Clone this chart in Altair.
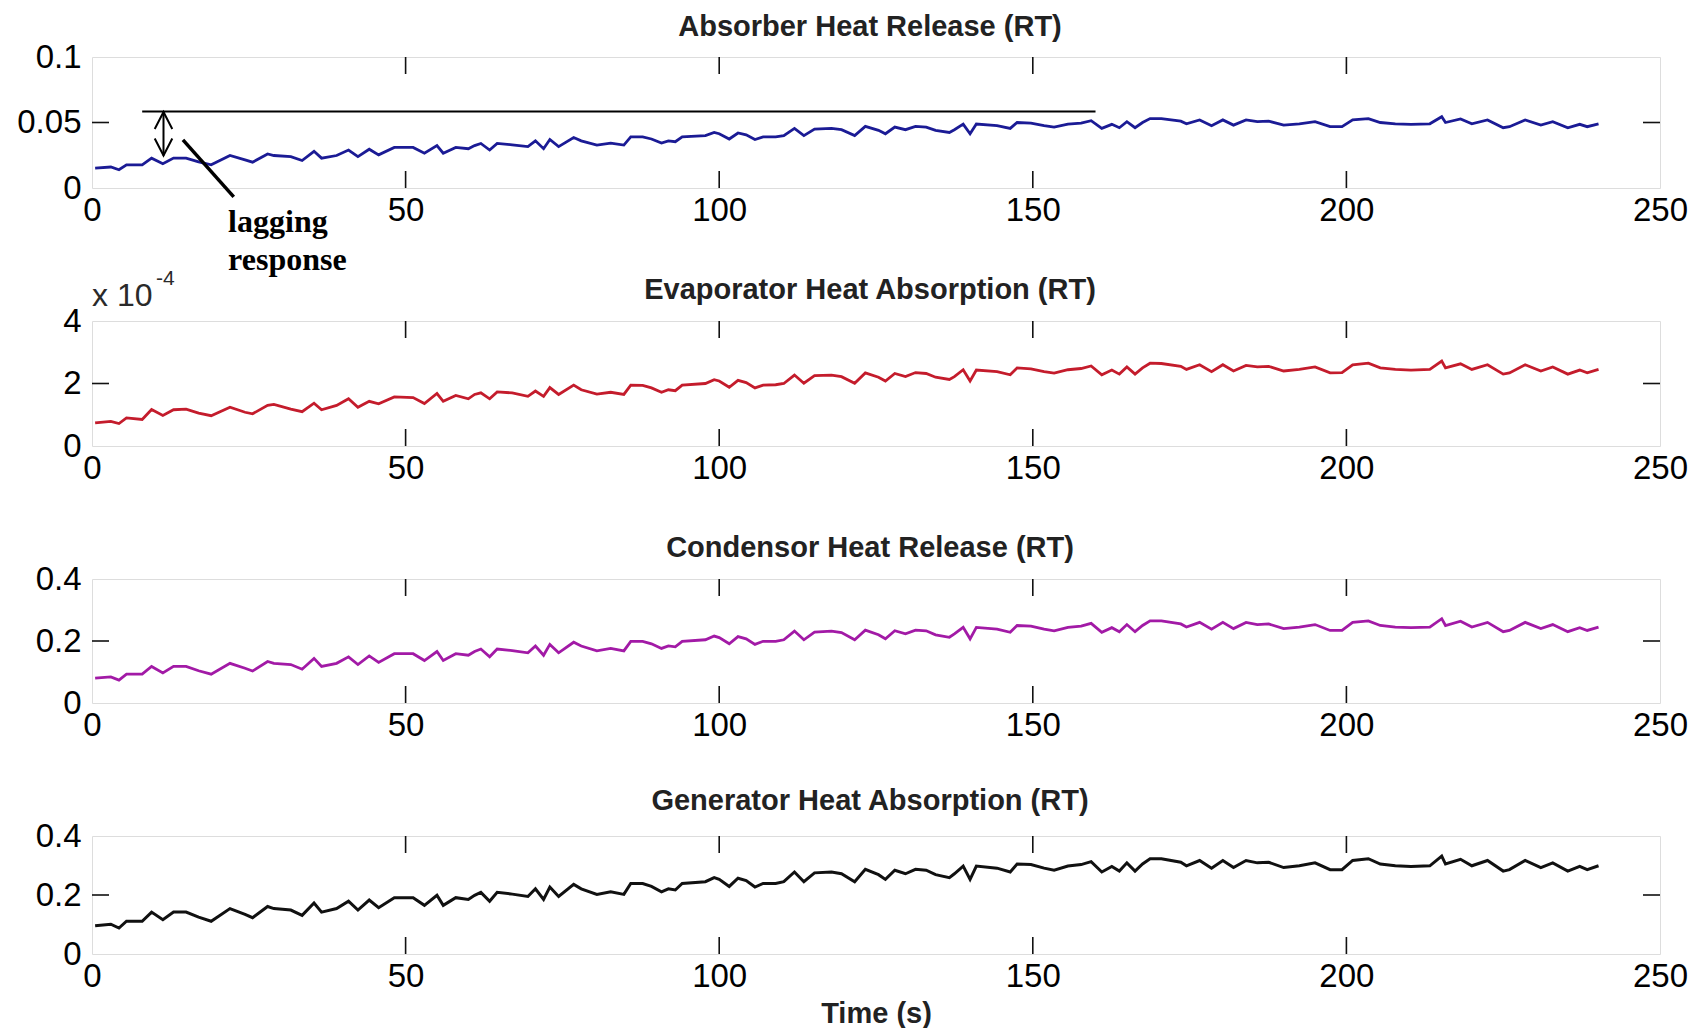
import altair as alt
import pandas as pd

# ---------------- data ----------------
time_s = [0.5, 3, 4.3, 5.5, 8, 9.5, 11.3, 13, 15, 17,
          19, 22, 24.4, 25.6, 28, 29, 31.7, 33.5, 35.4, 36.6,
          39, 40.9, 42.4, 44.2, 45.7, 48.2, 51.2, 53, 55, 56,
          58, 60, 61, 62, 63.4, 64.6, 67, 69.5, 70.7, 72,
          73, 74.4, 76.8, 78, 80.5, 82.7, 84.8, 85.9, 87.8, 89.2,
          90.8, 91.9, 93, 94.1, 97.8, 99.2, 100, 101.6, 103, 104.3,
          105.7, 107, 109, 110.3, 112, 113.5, 115.2, 117.9, 119.5, 121.6,
          123.3, 125.4, 126.5, 128, 129.7, 131.3, 133, 134.5, 136.7, 137.5,
          138.9, 140, 141, 144.3, 146.4, 147.5, 149.7, 151.8, 153.4, 155.6,
          157.7, 159.3, 161, 162.6, 163.8, 165, 166.3, 167.5, 168.7, 170.5,
          173.6, 174.5, 176.6, 178.5, 180.3, 182, 184, 185.8, 187.6, 190,
          192.5, 195, 197.4, 199.3, 201, 203.5, 205.4, 207.8, 210.3, 213.3,
          215.2, 215.8, 218.2, 220, 222.5, 225, 226, 228.5, 231, 232.9,
          235.3, 237.2, 238.4, 240.2]

absorber = [0.0152, 0.0160, 0.0139, 0.0177, 0.0177, 0.0228, 0.0185, 0.0228, 0.0228, 0.0200,
            0.0177, 0.0248, 0.0215, 0.0197, 0.0260, 0.0248, 0.0240, 0.0210, 0.0280, 0.0228,
            0.0248, 0.0290, 0.0240, 0.0296, 0.0253, 0.0310, 0.0310, 0.0266, 0.0324, 0.0266,
            0.0310, 0.0300, 0.0324, 0.0340, 0.0290, 0.0340, 0.0330, 0.0316, 0.0360, 0.0300,
            0.0370, 0.0316, 0.0385, 0.0360, 0.0328, 0.0343, 0.0328, 0.0390, 0.0390, 0.0374,
            0.0343, 0.0360, 0.0353, 0.0390, 0.0400, 0.0424, 0.0414, 0.0374, 0.0420, 0.0406,
            0.0370, 0.0390, 0.0390, 0.0400, 0.0455, 0.0400, 0.0450, 0.0455, 0.0445, 0.0400,
            0.0470, 0.0440, 0.0414, 0.0465, 0.0445, 0.0470, 0.0465, 0.0440, 0.0424, 0.0445,
            0.0488, 0.0414, 0.0488, 0.0476, 0.0455, 0.0500, 0.0496, 0.0476, 0.0465, 0.0488,
            0.0496, 0.0514, 0.0455, 0.0486, 0.0460, 0.0506, 0.0460, 0.0500, 0.0530, 0.0530,
            0.0510, 0.0490, 0.0520, 0.0476, 0.0520, 0.0480, 0.0520, 0.0506, 0.0510, 0.0480,
            0.0490, 0.0506, 0.0468, 0.0468, 0.0520, 0.0530, 0.0500, 0.0490, 0.0486, 0.0490,
            0.0544, 0.0500, 0.0527, 0.0490, 0.0520, 0.0460, 0.0468, 0.0520, 0.0480, 0.0506,
            0.0460, 0.0486, 0.0468, 0.0490]

# evaporator values in units of 1e-4 RT (axis carries the "x 10^-4" multiplier)
evaporator_e4 = [0.74, 0.79, 0.72, 0.90, 0.85, 1.17, 0.98, 1.16, 1.18, 1.05,
                 0.97, 1.24, 1.08, 1.03, 1.30, 1.33, 1.18, 1.10, 1.37, 1.16,
                 1.30, 1.51, 1.24, 1.43, 1.35, 1.57, 1.55, 1.36, 1.68, 1.43,
                 1.62, 1.51, 1.65, 1.70, 1.51, 1.73, 1.70, 1.59, 1.76, 1.59,
                 1.87, 1.65, 1.95, 1.80, 1.66, 1.72, 1.65, 1.95, 1.94, 1.86,
                 1.72, 1.80, 1.77, 1.95, 2.00, 2.12, 2.08, 1.88, 2.10, 2.03,
                 1.86, 1.95, 1.96, 2.00, 2.27, 2.01, 2.25, 2.27, 2.22, 2.01,
                 2.34, 2.20, 2.08, 2.32, 2.22, 2.35, 2.32, 2.20, 2.13, 2.22,
                 2.44, 2.08, 2.43, 2.38, 2.28, 2.50, 2.47, 2.38, 2.33, 2.44,
                 2.48, 2.56, 2.28, 2.43, 2.30, 2.53, 2.30, 2.50, 2.65, 2.64,
                 2.55, 2.45, 2.60, 2.38, 2.60, 2.40, 2.58, 2.53, 2.55, 2.40,
                 2.45, 2.53, 2.34, 2.35, 2.60, 2.65, 2.50, 2.45, 2.43, 2.45,
                 2.72, 2.50, 2.63, 2.45, 2.60, 2.30, 2.34, 2.60, 2.40, 2.53,
                 2.30, 2.43, 2.34, 2.45]

condensor = [0.080, 0.084, 0.074, 0.093, 0.093, 0.118, 0.097, 0.118, 0.118, 0.104,
             0.093, 0.128, 0.112, 0.103, 0.134, 0.128, 0.124, 0.109, 0.144, 0.118,
             0.128, 0.149, 0.124, 0.152, 0.131, 0.159, 0.159, 0.137, 0.166, 0.137,
             0.159, 0.154, 0.166, 0.174, 0.149, 0.174, 0.169, 0.162, 0.184, 0.154,
             0.189, 0.162, 0.196, 0.184, 0.168, 0.176, 0.168, 0.199, 0.199, 0.191,
             0.176, 0.184, 0.181, 0.199, 0.204, 0.216, 0.211, 0.191, 0.214, 0.207,
             0.189, 0.199, 0.199, 0.204, 0.232, 0.204, 0.229, 0.232, 0.227, 0.204,
             0.235, 0.220, 0.207, 0.233, 0.223, 0.235, 0.233, 0.220, 0.212, 0.223,
             0.244, 0.207, 0.244, 0.238, 0.228, 0.250, 0.248, 0.238, 0.233, 0.244,
             0.248, 0.257, 0.228, 0.243, 0.230, 0.253, 0.230, 0.250, 0.265, 0.265,
             0.255, 0.245, 0.260, 0.238, 0.260, 0.240, 0.260, 0.253, 0.255, 0.240,
             0.245, 0.253, 0.234, 0.234, 0.260, 0.265, 0.250, 0.245, 0.243, 0.245,
             0.272, 0.250, 0.264, 0.245, 0.260, 0.230, 0.234, 0.260, 0.240, 0.253,
             0.230, 0.243, 0.234, 0.245]

generator = [0.096, 0.101, 0.088, 0.111, 0.111, 0.142, 0.116, 0.142, 0.142, 0.125,
             0.111, 0.154, 0.134, 0.123, 0.161, 0.154, 0.149, 0.131, 0.173, 0.142,
             0.154, 0.179, 0.149, 0.183, 0.157, 0.191, 0.191, 0.165, 0.199, 0.165,
             0.191, 0.185, 0.199, 0.209, 0.179, 0.209, 0.203, 0.195, 0.221, 0.185,
             0.227, 0.195, 0.236, 0.221, 0.202, 0.211, 0.202, 0.239, 0.239, 0.229,
             0.211, 0.221, 0.217, 0.239, 0.245, 0.259, 0.253, 0.229, 0.257, 0.249,
             0.227, 0.239, 0.239, 0.245, 0.278, 0.245, 0.275, 0.278, 0.272, 0.245,
             0.287, 0.269, 0.253, 0.284, 0.272, 0.287, 0.284, 0.269, 0.259, 0.272,
             0.298, 0.253, 0.298, 0.291, 0.278, 0.305, 0.303, 0.291, 0.284, 0.298,
             0.303, 0.313, 0.278, 0.297, 0.281, 0.309, 0.281, 0.305, 0.323, 0.323,
             0.311, 0.299, 0.317, 0.291, 0.317, 0.293, 0.317, 0.309, 0.311, 0.293,
             0.299, 0.309, 0.286, 0.286, 0.317, 0.323, 0.305, 0.299, 0.297, 0.299,
             0.332, 0.305, 0.321, 0.299, 0.317, 0.281, 0.286, 0.317, 0.293, 0.309,
             0.281, 0.297, 0.286, 0.299]

for s in (absorber, evaporator_e4, condensor, generator):
    assert len(s) == len(time_s)

titles = ["Absorber Heat Release (RT)", "Evaporator Heat Absorption (RT)",
          "Condensor Heat Release (RT)", "Generator Heat Absorption (RT)"]
x_tick_labels = [0, 50, 100, 150, 200, 250]
x_inner_ticks = [50, 100, 150, 200]
y_tick_sets = [[0, 0.05, 0.1], [0, 2, 4], [0, 0.2, 0.4], [0, 0.2, 0.4]]
y_formats = [".2~f", "d", ".1~f", ".1~f"]
x_axis_title = "Time (s)"
exponent_text = ["x 10", "-4"]

# annotation on the first panel ("lagging response")
ref_line_t = [8, 160]
ref_line_v = 0.0584
arrow_t = 11.4
arrow_v = [0.0248, 0.0580]
head_t = [10.0, 11.4, 12.8, 10.0, 11.4, 12.8]
head_v = [0.0450, 0.0580, 0.0450, 0.0378, 0.0248, 0.0378]
head_id = ["top", "top", "top", "bot", "bot", "bot"]
pointer_t = [14.5, 22.6]
pointer_v = [0.0368, -0.0068]
note_text = ["lagging", "response"]
note_t = [21.7, 21.7]
note_v = [-0.0338, -0.0624]

# ---------------- styling ----------------
W = 1568
heights = [131, 125, 124, 118]
title_dy = [-21, -22, -22, -26]
colors = ["#1b1b95", "#c41c2c", "#a21aa6", "#111111"]
widths = [2.8, 2.8, 2.8, 3.0]
TICK = 17
LABEL_FS = 33
TITLE_FS = 29
series = [absorber, evaporator_e4, condensor, generator]

panels = []
for i in range(4):
    h = heights[i]
    ymax = y_tick_sets[i][-1]
    df = pd.DataFrame({"t": time_s, "v": series[i]})
    xscale = alt.Scale(domain=[0, 250], nice=False, zero=False)
    yscale = alt.Scale(domain=[0, ymax], nice=False, zero=False)
    xaxis = alt.Axis(values=x_tick_labels, format="d", labelFlush=False,
                     labelOverlap=False, ticks=False, tickSize=0, domain=False,
                     grid=False, labelFontSize=LABEL_FS, labelPadding=6,
                     title=x_axis_title if i == 3 else None,
                     titleFontSize=TITLE_FS, titleFontWeight="bold", titlePadding=6,
                     titleColor="#222222")
    yaxis = alt.Axis(values=y_tick_sets[i], format=y_formats[i], ticks=False,
                     tickSize=0, domain=False, grid=False, labelFontSize=LABEL_FS,
                     labelPadding=11, labelOverlap=False, title=None)
    X = alt.X("t:Q", scale=xscale, axis=xaxis)
    Y = alt.Y("v:Q", scale=yscale, axis=yaxis)

    line = alt.Chart(df).mark_line(color=colors[i], strokeWidth=widths[i]).encode(x=X, y=Y)

    xt = pd.DataFrame({"t": x_inner_ticks})
    top_ticks = alt.Chart(xt).mark_rule(color="#111", strokeWidth=1.6).encode(
        x=X, y=alt.value(0), y2=alt.value(TICK))
    bot_ticks = alt.Chart(xt).mark_rule(color="#111", strokeWidth=1.6).encode(
        x=X, y=alt.value(h - TICK), y2=alt.value(h))
    yt = pd.DataFrame({"v": [y_tick_sets[i][1]]})
    left_ticks = alt.Chart(yt).mark_rule(color="#111", strokeWidth=1.6).encode(
        y=Y, x=alt.value(0), x2=alt.value(TICK))
    right_ticks = alt.Chart(yt).mark_rule(color="#111", strokeWidth=1.6).encode(
        y=Y, x=alt.value(W - TICK), x2=alt.value(W))

    title_txt = alt.Chart(pd.DataFrame({"s": [titles[i]]})).mark_text(
        font="Liberation Sans", fontWeight="bold", fontSize=TITLE_FS,
        align="center", baseline="alphabetic", color="#222222").encode(
        text="s:N", x=alt.value(W / 2 - 6), y=alt.value(title_dy[i]))

    layers = [line, top_ticks, bot_ticks, left_ticks, right_ticks, title_txt]

    if i == 0:
        ref_df = pd.DataFrame({"t": [ref_line_t[0]], "t2": [ref_line_t[1]], "v": [ref_line_v]})
        ref = alt.Chart(ref_df).mark_rule(color="#000", strokeWidth=2).encode(
            x=X, x2="t2:Q", y=Y)
        shaft_df = pd.DataFrame({"t": [arrow_t], "v": [arrow_v[0]], "v2": [arrow_v[1]]})
        shaft = alt.Chart(shaft_df).mark_rule(color="#000", strokeWidth=2).encode(
            x=X, y=Y, y2="v2:Q")
        heads_df = pd.DataFrame({"t": head_t, "v": head_v, "id": head_id})
        heads = alt.Chart(heads_df).mark_line(color="#000", strokeWidth=2).encode(
            x=X, y=Y, detail="id:N")
        ptr_df = pd.DataFrame({"t": pointer_t, "v": pointer_v})
        ptr = alt.Chart(ptr_df).mark_line(color="#000", strokeWidth=3.5).encode(x=X, y=Y)
        note_df = pd.DataFrame({"t": note_t, "v": note_v, "s": note_text})
        note = alt.Chart(note_df).mark_text(
            font="Liberation Serif", fontWeight="bold", fontSize=32, align="left",
            baseline="alphabetic", color="#000").encode(x=X, y=Y, text="s:N")
        layers += [ref, shaft, heads, ptr, note]

    if i == 1:
        e1 = alt.Chart(pd.DataFrame({"s": [exponent_text[0]]})).mark_text(
            fontSize=32, align="left", baseline="alphabetic", color="#2a2a2a",
            font="Liberation Sans").encode(text="s:N", x=alt.value(0), y=alt.value(-15))
        e2 = alt.Chart(pd.DataFrame({"s": [exponent_text[1]]})).mark_text(
            fontSize=21, align="left", baseline="alphabetic", color="#2a2a2a",
            font="Liberation Sans").encode(text="s:N", x=alt.value(64), y=alt.value(-36))
        layers += [e1, e2]

    panel = alt.layer(*layers).properties(width=W, height=h)
    panels.append(panel)

chart = alt.vconcat(*panels, spacing=133, bounds="flush").properties(
    padding={"left": 8, "top": 4, "right": 5, "bottom": 0}
).configure_view(stroke="#111111", strokeWidth=2).configure_axis(
    labelFont="Liberation Sans", labelColor="#2a2a2a", titleFont="Liberation Sans"
).configure(background="white")

chart.save("out.html", embed_options={"renderer": "svg", "actions": False})
